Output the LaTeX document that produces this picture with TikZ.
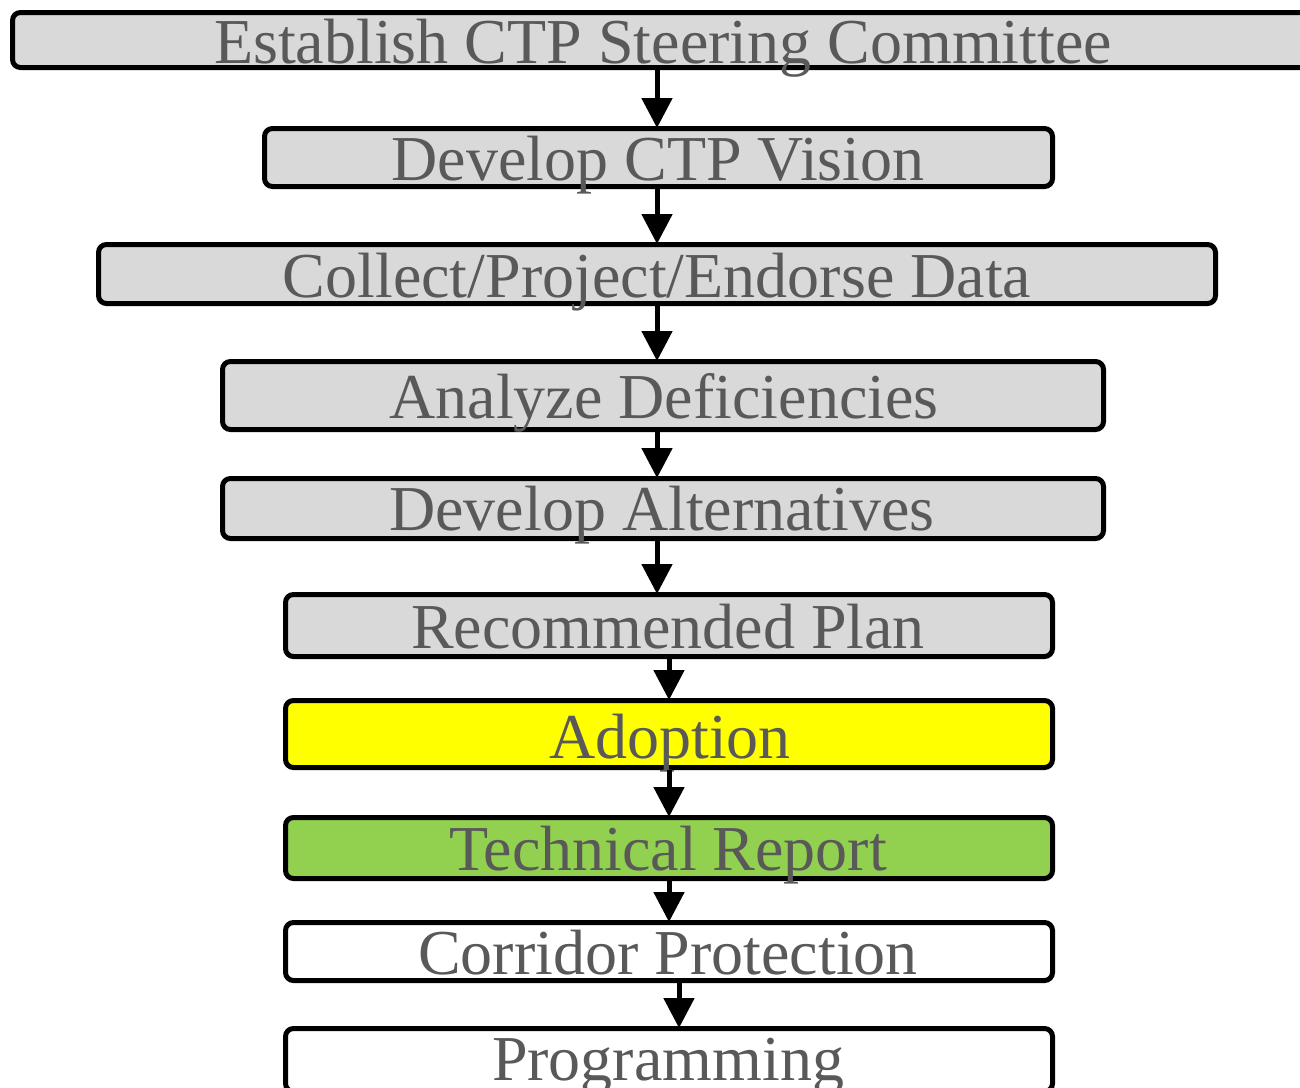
\documentclass[tikz,border=0pt]{standalone}
\usepackage{fontspec}
\setmainfont{Liberation Serif}
\usetikzlibrary{arrows.meta}
\definecolor{boxgray}{HTML}{D9D9D9}
\definecolor{txtgray}{HTML}{595959}
\definecolor{ylw}{HTML}{FFFF00}
\definecolor{grn}{HTML}{92D050}
\tikzset{
  stepbox/.style 2 args={draw=black, line width=2.5pt, rounded corners=4pt,
    minimum width=#1*0.5pt+2pt, minimum height=#2*0.5pt+2pt, inner sep=0pt},
  lbl/.style={anchor=base, inner sep=0pt, text=txtgray,
    font=\fontsize{32pt}{32pt}\selectfont},
  arr/.style={line width=2.5pt, -{Triangle[length=15pt,width=15pt]}, shorten >=-1pt}
}
\begin{document}
\begin{tikzpicture}[x=0.5pt,y=-0.5pt]
\useasboundingbox (0,0) rectangle (1300,1087);
\clip (0,0) rectangle (1300,1087);
\fill[white] (0,0) rectangle (1300,1087);
% boxes
\node[stepbox={1293}{51}, fill=boxgray] (b1) at (661,40) {};
\node[stepbox={784}{54}, fill=boxgray] (b2) at (658.5,157.5) {};
\node[stepbox={1113}{55}, fill=boxgray] (b3) at (657,274) {};
\node[stepbox={877}{64}, fill=boxgray] (b4) at (663,395.5) {};
\node[stepbox={877}{56}, fill=boxgray] (b5) at (663,508.5) {};
\node[stepbox={763}{58}, fill=boxgray] (b6) at (669,625.5) {};
\node[stepbox={763}{63}, fill=ylw] (b7) at (669,734) {};
\node[stepbox={763}{57}, fill=grn] (b8) at (669,848) {};
\node[stepbox={763}{54}, fill=white] (b9) at (669,951.5) {};
\node[stepbox={763}{59}, fill=white] (b10) at (669,1060) {};
% labels
\node[lbl] (t1) at (663,63) {Establish CTP Steering Committee};
\node[lbl] (t2) at (658,180) {Develop CTP Vision};
\node[lbl] (t3) at (657,297) {Collect/Project/Endorse Data};
\node[lbl] (t4) at (664,418) {Analyze Deficiencies};
\node[lbl] (t5) at (662,530) {Develop Alternatives};
\node[lbl] (t6) at (668,648) {Recommended Plan};
\node[lbl] (t7) at (670,758) {Adoption};
\node[lbl] (t8) at (668,870) {Technical Report};
\node[lbl] (t9) at (668,974) {Corridor Protection};
\node[lbl] (t10) at (668,1080) {Programming};
% arrow columns
\coordinate (ca) at (657,0);
\coordinate (cb) at (669,0);
\coordinate (cc) at (679,0);
\draw[arr] (b1.south -| ca) -- (b2.north -| ca);
\draw[arr] (b2.south -| ca) -- (b3.north -| ca);
\draw[arr] (b3.south -| ca) -- (b4.north -| ca);
\draw[arr] (b4.south -| ca) -- (b5.north -| ca);
\draw[arr] (b5.south -| ca) -- (b6.north -| ca);
\draw[arr] (b6.south -| cb) -- (b7.north -| cb);
\draw[arr] (b7.south -| cb) -- (b8.north -| cb);
\draw[arr] (b8.south -| cb) -- (b9.north -| cb);
\draw[arr] (b9.south -| cc) -- (b10.north -| cc);
\end{tikzpicture}
\end{document}
